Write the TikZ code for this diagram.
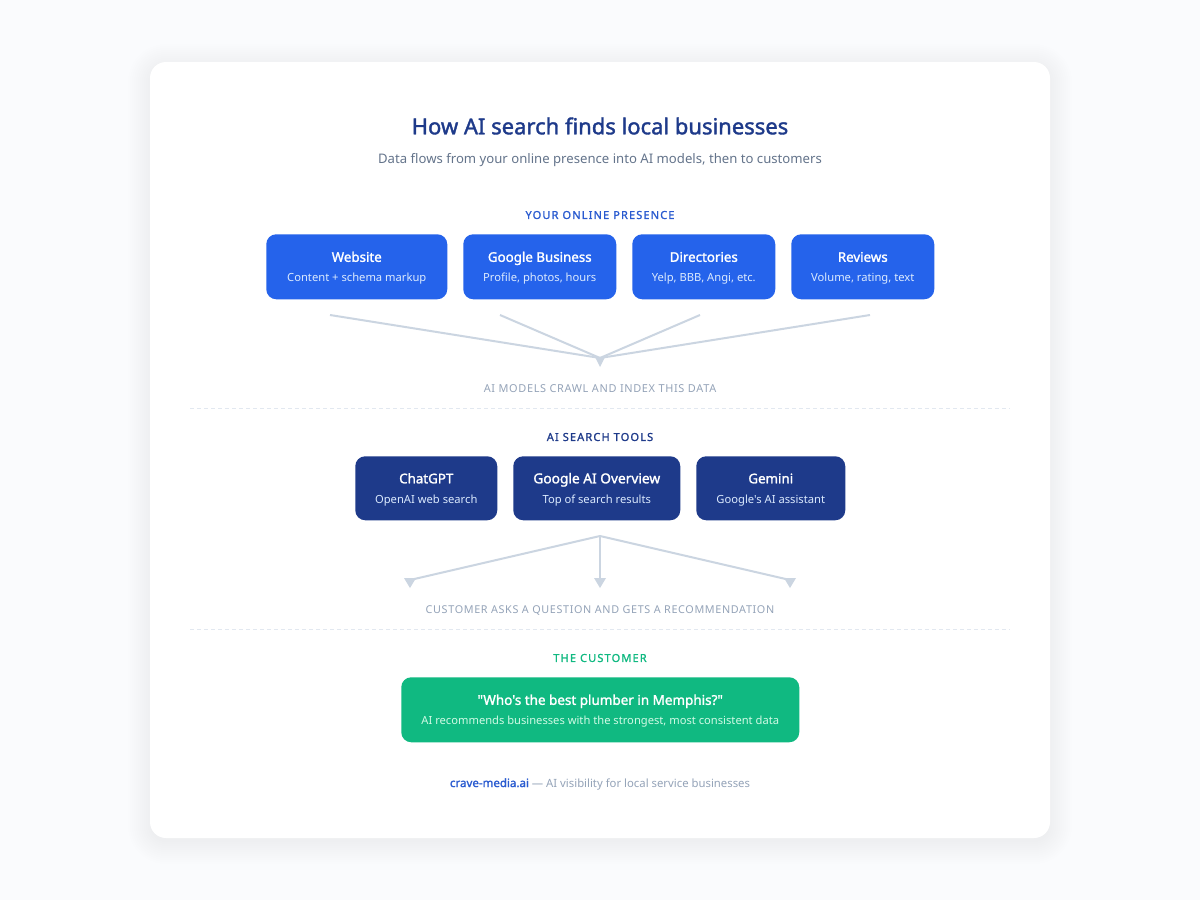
\documentclass[tikz,border=0pt]{standalone}
\usepackage{fontspec}
\setmainfont[AutoFakeBold=1.6,Ligatures=TeXOff]{Noto Sans}
\newfontfamily\spaced[LetterSpace=6,AutoFakeBold=1.2]{Noto Sans}
\newfontfamily\spacedb[LetterSpace=10.5,AutoFakeBold=1.2]{Noto Sans}
\usetikzlibrary{calc}
\definecolor{pagebg}{HTML}{FAFBFD}
\definecolor{blueA}{HTML}{2563EB}
\definecolor{linkblue}{HTML}{2A5BD0}
\definecolor{navy}{HTML}{1E3A8A}
\definecolor{greenA}{HTML}{10B981}
\definecolor{subgreen}{HTML}{D1FAE5}
\definecolor{slate}{HTML}{64748B}
\definecolor{mute}{HTML}{94A3B8}
\definecolor{wire}{HTML}{CBD5E1}
\definecolor{dash}{HTML}{E2E8F0}
\definecolor{subblue}{HTML}{DBEAFE}
\newcommand\pxs[2]{\fontsize{#1}{#2}\selectfont}
\newcommand\boxtext[3][10]{\rule{0pt}{9.45pt}{\pxs{#1}{15}\bfseries #3}\\[2.85pt]{\pxs{8.4}{12}\color{subblue}#2}}
\tikzset{
  x=0.75pt,y=-0.75pt,
  card/.style={draw=none,rounded corners=7.5pt,inner sep=0pt,align=center,text=white,anchor=north west},
  bluebox/.style={card,fill=blueA},
  navybox/.style={card,fill=navy},
  greenbox/.style={card,fill=greenA},
  wireline/.style={draw=wire,line width=1.5pt},
  sep/.style={draw=dash,line width=0.75pt,dash pattern=on 3pt off 2.25pt},
  tag/.style={inner sep=0pt,anchor=center},
}
\newcommand\downtip[1]{\fill[wire] ($(#1)+(-6,-2)$) -- ($(#1)+(6,-2)$) -- ($(#1)+(0,8)$) -- cycle;}
\begin{document}
\begin{tikzpicture}
\useasboundingbox (0,0) rectangle (1200,900);
\fill[pagebg] (0,0) rectangle (1200,900);
\foreach \i in {0,2,...,22}{
  \fill[black,opacity=0.003,rounded corners=12pt+\i*0.75pt] (150-\i,66-\i) rectangle (1050+\i,842+\i);
}
\fill[white,rounded corners=12pt] (150,62) rectangle (1050,838);

\node[tag,text=navy] (title) at (600,126) {\pxs{16.5}{20}\bfseries How AI search finds local businesses};
\node[tag,text=slate] (subtitle) at (600,160) {\pxs{9.86}{12}Data flows from your online presence into AI models, then to customers};
\node[tag,text=linkblue] (lab1) at (600,215) {\pxs{8.25}{10}\bfseries\spacedb YOUR ONLINE PRESENCE};

\node[bluebox,minimum width=135.75pt,minimum height=48.75pt] (website) at (266,234) {\boxtext{Content + schema markup}{Website}};
\node[bluebox,minimum width=114.75pt,minimum height=48.75pt] (gbiz) at (463,234) {\boxtext{Profile, photos, hours}{Google Business}};
\node[bluebox,minimum width=107.25pt,minimum height=48.75pt] (dirs) at (632,234) {\boxtext{Yelp, BBB, Angi, etc.}{Directories}};
\node[bluebox,minimum width=107.25pt,minimum height=48.75pt] (reviews) at (791,234) {\boxtext{Volume, rating, text}{Reviews}};

\coordinate (s1) at (330,315);
\coordinate (s2) at (500,315);
\coordinate (s3) at (700,315);
\coordinate (s4) at (870,315);
\coordinate (hub) at (600,358);
\draw[wireline] (s1) -- (hub);
\draw[wireline] (s2) -- (hub);
\draw[wireline] (s3) -- (hub);
\draw[wireline] (s4) -- (hub);
\fill[wire] (595,357) -- (605,357) -- (600,367) -- cycle;

\node[tag,text=mute] (note1) at (600,389) {\pxs{8.2}{10}\spaced AI MODELS CRAWL AND INDEX THIS DATA};
\coordinate (d1a) at (190,408); \coordinate (d1b) at (1010,408);
\draw[sep] (d1a) -- (d1b);

\node[tag,text=navy] (lab2) at (600,437) {\pxs{8.25}{10}\bfseries\spacedb AI SEARCH TOOLS};
\node[navybox,minimum width=106.5pt,minimum height=48pt] (chatgpt) at (355,456) {\boxtext{OpenAI web search}{ChatGPT}};
\node[navybox,minimum width=125.25pt,minimum height=48pt] (overview) at (513,456) {\boxtext[10.3]{Top of search results}{Google AI Overview}};
\node[navybox,minimum width=111.75pt,minimum height=48pt] (gemini) at (696,456) {\boxtext{Google's AI assistant}{Gemini}};

\coordinate (top) at (600,536);
\coordinate (e1) at (410,580);
\coordinate (e2) at (600,580);
\coordinate (e3) at (790,580);
\draw[wireline] (top) -- (e1);
\draw[wireline] (top) -- (e2);
\draw[wireline] (top) -- (e3);
\downtip{e1}\downtip{e2}\downtip{e3}

\node[tag,text=mute] (note2) at (600,610) {\pxs{8.1}{10}\spaced CUSTOMER ASKS A QUESTION AND GETS A RECOMMENDATION};
\coordinate (d2a) at (190,629); \coordinate (d2b) at (1010,629);
\draw[sep] (d2a) -- (d2b);

\node[tag,text=greenA] (lab3) at (600,658) {\pxs{8.25}{10}\bfseries\spacedb THE CUSTOMER};
\node[greenbox,minimum width=298.5pt,minimum height=48.75pt] (customer) at (401,677) {\rule{0pt}{9.45pt}{\pxs{10.1}{15}\bfseries "Who's the best plumber in Memphis?"}\\[2.85pt]{\pxs{8.38}{12}\color{subgreen}AI recommends businesses with the strongest, most consistent data}};

\node[tag,text=mute] (foot) at (600,784) {\pxs{8.5}{11}{\pxs{8.65}{11}\color{linkblue}\bfseries crave-media.ai} — AI visibility for local service businesses};
\end{tikzpicture}
\end{document}
